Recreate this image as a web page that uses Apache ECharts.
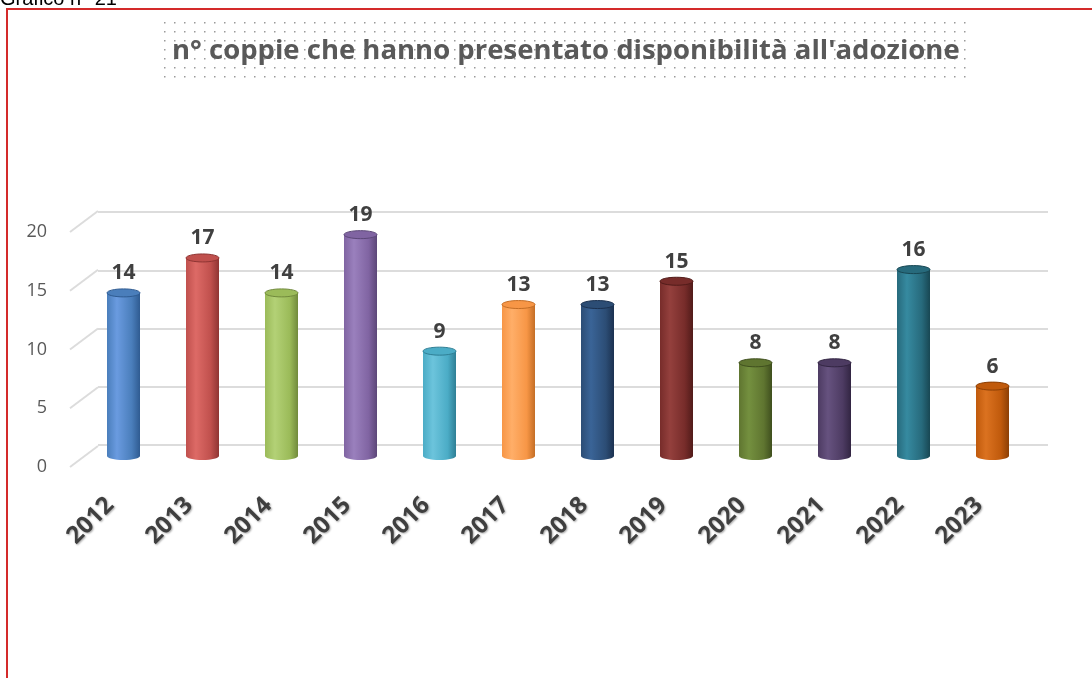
<!DOCTYPE html>
<html>
<head>
<meta charset="utf-8">
<script src="https://cdn.jsdelivr.net/npm/echarts@6/dist/echarts.min.js"></script>
<style>
  html, body { margin: 0; padding: 0; background: #fff; }
  #chart { width: 1092px; height: 678px; }
</style>
</head>
<body>
<div id="chart"></div>
<script>
const years = ["2012", "2013", "2014", "2015", "2016", "2017", "2018", "2019", "2020", "2021", "2022", "2023"];
const couples = [14, 17, 14, 19, 9, 13, 13, 15, 8, 8, 16, 6];
const yTicks = [0, 5, 10, 15, 20];
// [light, base, dark] per bar
const barColors = [
  ["#6a9be0", "#4a7ebb", "#2f5b91"],
  ["#dd6a66", "#c0504d", "#8f3533"],
  ["#b3d176", "#9bbb59", "#718a3c"],
  ["#9a80bd", "#8064a2", "#5c4778"],
  ["#6cc4dc", "#4bacc6", "#2f7f95"],
  ["#ffae68", "#f79646", "#c46e26"],
  ["#3a6497", "#2c4d75", "#1b3150"],
  ["#94403d", "#772c2a", "#511b19"],
  ["#74903f", "#5f7530", "#3f4f1e"],
  ["#66527f", "#4d3b62", "#322542"],
  ["#368aa0", "#276a7c", "#184753"],
  ["#db7220", "#c05a0c", "#8c3f05"]
];

const chart = echarts.init(document.getElementById("chart"));

// dotted background behind the title
const dots = document.createElement("canvas");
dots.width = 10;
dots.height = 9;
const dctx = dots.getContext("2d");
dctx.fillStyle = "#9a9a9a";
dctx.fillRect(4, 4, 1.5, 1.5);

function renderCylinder(params, api) {
  const i = params.dataIndex;
  const v = api.value(1);
  const top = api.coord([api.value(0), v]);
  const base = api.coord([api.value(0), 0]);
  const w = 33, ry = 4;
  const c = barColors[i];
  const side = new echarts.graphic.LinearGradient(0, 0, 1, 0, [
    { offset: 0, color: c[1] },
    { offset: 0.3, color: c[0] },
    { offset: 0.75, color: c[1] },
    { offset: 1, color: c[2] }
  ]);
  return {
    type: "group",
    children: [
      { type: "ellipse", shape: { cx: top[0], cy: base[1], rx: w / 2, ry: ry }, style: { fill: side } },
      { type: "rect", shape: { x: top[0] - w / 2, y: top[1], width: w, height: base[1] - top[1] }, style: { fill: side } },
      { type: "ellipse", shape: { cx: top[0], cy: top[1], rx: w / 2, ry: ry }, style: { fill: c[1], stroke: c[2], lineWidth: 1 } },
      {
        type: "text",
        style: {
          text: String(v), x: top[0], y: top[1] - 9,
          align: "center", verticalAlign: "bottom",
          font: "bold 21px 'Open Sans'", fill: "#404040"
        }
      }
    ]
  };
}

function renderDiagonal(params, api) {
  const p = api.coord([0, api.value(1)]);
  return {
    type: "line",
    shape: { x1: p[0], y1: p[1], x2: p[0] + 28, y2: p[1] - 21 },
    style: { stroke: "#dcdcdc", lineWidth: 2 }
  };
}

const option = {
  backgroundColor: "#fff",
  animation: false,
  graphic: [
    { type: "text", left: 0, top: -11, style: { text: "Grafico n° 21", font: "20px 'Liberation Sans'", fill: "#000" } },
    { type: "rect", shape: { x: 7, y: 9, width: 1200, height: 800 }, style: { fill: "none", stroke: "#d42a2a", lineWidth: 2 } },
    { type: "rect", shape: { x: 164, y: 21, width: 802, height: 57 }, style: { fill: { image: dots, repeat: "repeat" } }, z: 0 }
  ],
  title: {
    text: "n° coppie che hanno presentato disponibilità all'adozione",
    left: 167,
    top: 32,
    textStyle: { fontFamily: "Open Sans", fontWeight: "bold", fontSize: 27.5, color: "#595959" },
    z: 10
  },
  grid: [
    { left: 98, right: 44, top: 212, bottom: 233 },
    { left: 70, width: 30, top: 232, bottom: 211 },
    { left: 84, right: 60, top: 223, bottom: 222 }
  ],
  xAxis: [
    { gridIndex: 0, type: "value", min: 0, max: 1, show: false },
    { gridIndex: 1, type: "value", min: 0, max: 1, show: false },
    {
      gridIndex: 2, type: "category", data: years,
      axisLine: { show: false }, axisTick: { show: false },
      axisLabel: {
        rotate: 45, margin: 32, interval: 0, padding: [0, 19, 0, 0],
        fontFamily: "Open Sans", fontWeight: "bold", fontSize: 24, color: "#3f3f3f",
        textShadowColor: "rgba(0,0,0,0.35)", textShadowBlur: 2, textShadowOffsetX: 1, textShadowOffsetY: 1
      }
    }
  ],
  yAxis: [
    {
      gridIndex: 0, type: "value", min: 0, max: 20, interval: 5,
      axisLine: { show: false }, axisTick: { show: false }, axisLabel: { show: false },
      splitLine: { lineStyle: { color: "#dcdcdc", width: 2 } }
    },
    {
      gridIndex: 1, type: "value", min: 0, max: 20, interval: 5,
      axisLine: { show: false }, axisTick: { show: false }, splitLine: { show: false },
      axisLabel: { margin: 23, fontFamily: "Open Sans", fontSize: 18, color: "#595959" }
    },
    { gridIndex: 2, type: "value", min: 0, max: 20, show: false }
  ],
  series: [
    {
      type: "custom", xAxisIndex: 1, yAxisIndex: 1,
      data: yTicks.map(t => [0, t]),
      renderItem: renderDiagonal, silent: true
    },
    {
      type: "custom", xAxisIndex: 2, yAxisIndex: 2,
      data: couples.map((v, i) => [i, v]),
      renderItem: renderCylinder, z: 5
    }
  ]
};

chart.setOption(option);
window.addEventListener("resize", () => chart.resize());
</script>
</body>
</html>
